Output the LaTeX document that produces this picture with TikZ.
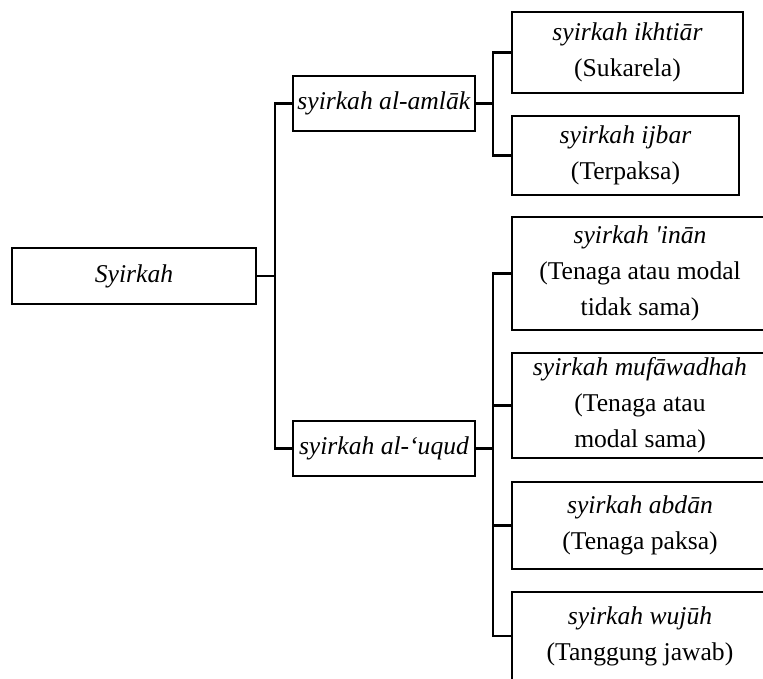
\documentclass[tikz,border=0pt]{standalone}
\usepackage{fontspec}
\setmainfont{Liberation Serif}
\usetikzlibrary{positioning}

\begin{document}
\begin{tikzpicture}[x=0.5pt, y=-0.5pt,
    cbox/.style={draw, line width=1.1pt, align=center, inner sep=1pt,
      font=\fontsize{12.8}{18}\selectfont},
    link/.style={line width=1.1pt}]
      \useasboundingbox (0,0) rectangle (763,678);
      \clip (0,0) rectangle (763,678);

      \node[cbox, minimum width=122pt, minimum height=28pt] (syirkah) at (134,276) {\textit{Syirkah}};

      \node[cbox, minimum width=91pt, minimum height=27.5pt] (amlak) at (384,103.5) {\textit{syirkah al-amlāk}};
      \node[cbox, minimum width=91pt, minimum height=27.5pt] (uqud) at (384,448.5) {\textit{syirkah al-‘uqud}};

      % amlak branch
      \node[cbox, minimum width=115.5pt, minimum height=40.5pt] (ikhtiar) at (627.5,52.5) {\textit{syirkah ikhtiār}\\(Sukarela)};
      \node[cbox, minimum width=113.5pt, minimum height=39.5pt] (ijbar) at (625.5,155.5) {\textit{syirkah ijbar}\\(Terpaksa)};

      % uqud branch
      \node[cbox, minimum width=128pt, minimum height=56.5pt] (inan) at (640,273.5) {\textit{syirkah \textquotesingle inān}\\(Tenaga atau modal\\tidak sama)};
      \node[cbox, minimum width=128pt, minimum height=52.5pt] (mufawadhah) at (640,405.5) {\textit{syirkah mufāwadhah}\\(Tenaga atau\\modal sama)};
      \node[cbox, minimum width=128pt, minimum height=43.5pt] (abdan) at (640,525.5) {\textit{syirkah abdān}\\(Tenaga paksa)};
      \node[cbox, minimum width=128pt, minimum height=44pt] (wujuh) at (640,636) {\textit{syirkah wujūh}\\(Tanggung jawab)};

      \draw[link] (syirkah.east) -- ++(18,0) coordinate (j0);
      \draw[link] (amlak.west) -| (j0) |- (uqud.west);

      \draw[link] (amlak.east) -- ++(17,0) coordinate (j1);
      \draw[link] (ikhtiar.west) -| (j1) |- (ijbar.west);

      \draw[link] (uqud.east) -- ++(17,0) coordinate (j2);
      \draw[link] (inan.west) -| (j2) |- (wujuh.west);
      \draw[link] (j2 |- mufawadhah.west) -- (mufawadhah.west);
      \draw[link] (j2 |- abdan.west) -- (abdan.west);
    \end{tikzpicture}
\end{document}
